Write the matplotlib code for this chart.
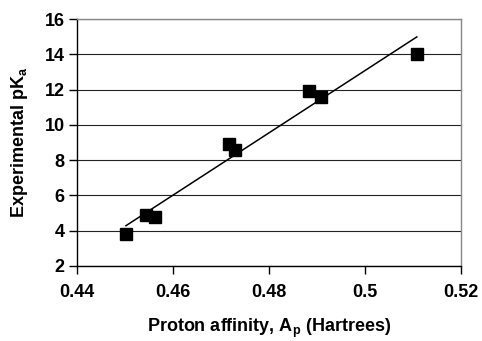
import numpy as np
import matplotlib
matplotlib.use("Agg")
import matplotlib.pyplot as plt

# Proton affinity (Hartrees) vs experimental pKa
affinity = [0.4502, 0.4543, 0.4563, 0.4717, 0.4729, 0.4883, 0.4909, 0.5108]
pka = [3.8, 4.9, 4.8, 8.9, 8.6, 11.9, 11.6, 14.0]

x_ticks = [0.44, 0.46, 0.48, 0.5, 0.52]
x_tick_labels = ["0.44", "0.46", "0.48", "0.5", "0.52"]
y_ticks = [2, 4, 6, 8, 10, 12, 14, 16]

plt.rcParams["font.family"] = ["Liberation Sans", "DejaVu Sans"]
plt.rcParams["font.weight"] = "bold"
plt.rcParams["mathtext.fontset"] = "custom"
plt.rcParams["mathtext.rm"] = "Liberation Sans:bold"

fig = plt.figure(figsize=(4.82, 3.41), dpi=100)
ax = fig.add_axes([77 / 482, 1 - 266 / 341, 384 / 482, 247 / 341])

# least-squares trend line over the data range
slope, intercept = np.polyfit(affinity, pka, 1)
xs = np.array([min(affinity), max(affinity)])
ax.plot(xs, slope * xs + intercept, color="black", lw=1.1, zorder=3)

ax.plot(affinity, pka, "s", color="black", markersize=8, zorder=4)

ax.set_xlim(0.44, 0.52)
ax.set_ylim(2, 16)
ax.set_xticks(x_ticks)
ax.set_xticklabels(x_tick_labels)
ax.set_yticks(y_ticks)
ax.yaxis.grid(True, color="#222222", lw=0.8)
ax.set_axisbelow(True)

for side in ("top", "right"):
    ax.spines[side].set_color("#888888")
    ax.spines[side].set_linewidth(1.0)
for side in ("left", "bottom"):
    ax.spines[side].set_color("black")
    ax.spines[side].set_linewidth(1.0)

ax.tick_params(direction="out", length=6, width=1, labelsize=13, pad=3)
ax.tick_params(axis="x", pad=7)

ax.set_xlabel(r"Proton affinity, A$\mathregular{_p}$ (Hartrees)", fontsize=13,
              fontweight="bold", labelpad=11)
ax.set_ylabel(r"Experimental pK$\mathregular{_a}$", fontsize=13,
              fontweight="bold", labelpad=10)

fig.savefig("out.png", dpi=100)
